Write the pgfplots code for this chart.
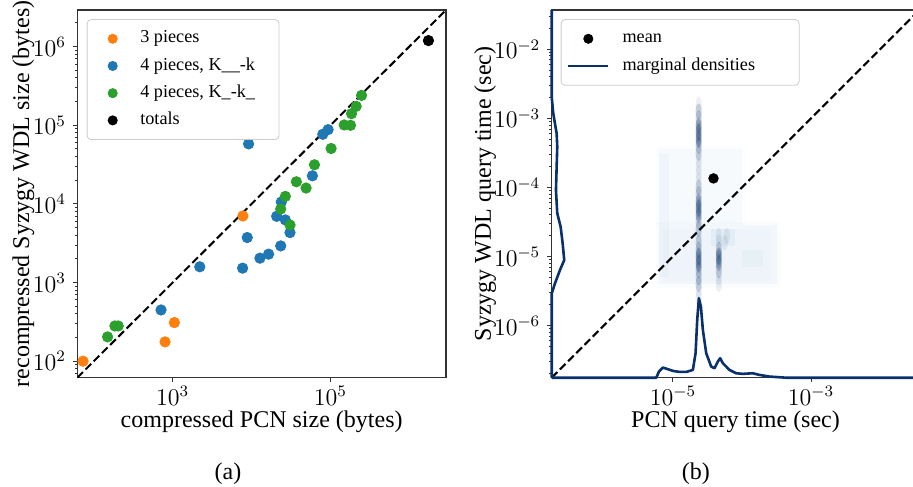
\documentclass[border=0pt]{standalone}
\usepackage[no-math]{fontspec}
\setmainfont{Liberation Serif}
\usepackage{pgfplots}
\pgfplotsset{compat=1.18}

\definecolor{cthree}{HTML}{FF7F0E}
\definecolor{cfoura}{HTML}{1F77B4}
\definecolor{cfourb}{HTML}{2CA02C}
\definecolor{dens}{HTML}{08306B}
\definecolor{cloud}{HTML}{2171B5}

\pgfplotsset{
  panel/.style={
    scale only axis, height=183.85pt, anchor=south west,
    axis line style={black!80, line width=0.6pt},
    tick align=outside, tick pos=left,
    major tick length=2.2pt, minor tick length=1.2pt,
    tick style={black!80, line width=0.5pt},
    tick label style={font=\fontsize{11.5}{13}\selectfont},
    xticklabel style={inner sep=2pt},
    label style={font=\fontsize{12}{14}\selectfont},
    xlabel style={at={(axis description cs:0.5,-0.121)}, anchor=center},
    legend cell align=left,
    legend image code/.code={%
      \draw[mark repeat=2,mark phase=2,##1] plot coordinates {(0cm,0cm) (0.35cm,0cm) (0.7cm,0cm)};},
    legend style={draw=black!20, rounded corners=2pt, fill=white, fill opacity=0.8,
      text opacity=1, font=\fontsize{9.1}{11}\selectfont, anchor=north west,
      row sep=2pt, inner xsep=3pt, inner ysep=3.8pt,
      nodes={inner sep=1.5pt, text height=6.4pt, text depth=2.2pt},
      /tikz/every odd column/.append style={column sep=2pt}},
  },
  dot/.style={only marks, mark=*, mark size=2.6pt, color=#1,
    mark options={solid, draw=#1, fill=#1, fill opacity=1, draw opacity=1},
    legend image code/.code={\draw[##1, mark size=2.3pt] plot coordinates {(0.35cm,0cm)};}},
  blur/.style 2 args={only marks, mark=*, forget plot,
    mark options={draw opacity=0, fill=dens, fill opacity=#1, xscale=0.7, yscale=#2}},
  soft/.style={draw=none, fill=cloud, fill opacity=#1, forget plot},
}

\begin{document}
\begin{tikzpicture}
\path[use as bounding box] (0,0) rectangle (456.5pt,243pt);

% (a) sizes
\begin{loglogaxis}[panel, at={(38.65pt,54.15pt)}, width=184.35pt,
  xmin=61.7, xmax=2.917e6, ymin=61.7, ymax=2.917e6,
  xtick={1e3,1e5}, minor xtick={},
  ytick={1e2,1e3,1e4,1e5,1e6},
  minor ytick={7e1,8e1,9e1,2e2,3e2,4e2,5e2,6e2,7e2,8e2,9e2,2e3,3e3,4e3,5e3,6e3,7e3,8e3,9e3,
    2e4,3e4,4e4,5e4,6e4,7e4,8e4,9e4,2e5,3e5,4e5,5e5,6e5,7e5,8e5,9e5,2e6},
  xlabel={compressed PCN size (bytes)},
  ylabel={recompressed Syzygy WDL size (bytes)},
  ylabel style={at={(axis description cs:-0.146,0.5)}, anchor=center},
  legend style={at={(0.0255,0.975)}, inner xsep=10.5pt},
]
\addplot[black, line width=1pt, dash pattern=on 4pt off 1.8pt, forget plot]
  coordinates {(61.7,61.7) (2.917e6,2.917e6)};
\addplot[dot=cthree] coordinates {
  (73,100) (800,176) (1050,310) (7760,7020)};
\addlegendentry{\hspace*{8pt}\makebox[54.4pt][l]{3 pieces}}
\addplot[dot=cfoura] coordinates {
  (9160,57900) (711,448) (2203,1585) (7690,1524) (8810,3733) (12760,2042)
  (16440,2296) (23390,2924) (20800,6950) (23820,10570) (26790,6252)
  (30690,4315) (59020,22750) (79980,76740) (93330,87900)};
\addlegendentry{\hspace*{8pt}4 pieces, K\_\_-k}
\addplot[dot=cfourb] coordinates {
  (149.3,203.7) (184.9,280.5) (203.7,280.5) (23390,8610) (26790,12450)
  (30690,5395) (36980,19100) (49090,15890) (62660,31410) (101900,50580)
  (149300,100700) (179500,99770) (184900,140300) (211800,173800) (247700,239300)};
\addlegendentry{\hspace*{8pt}4 pieces, K\_-k\_}
\addplot[dot=black] coordinates {(1746000,1191000)};
\addlegendentry{\hspace*{8pt}totals}
\end{loglogaxis}

% (b) query times
\begin{loglogaxis}[panel, at={(275.85pt,54.15pt)}, width=183.85pt, clip=false,
  xmin=1.76e-7, xmax=3.7e-2, ymin=1.76e-7, ymax=3.7e-2,
  xtick={1e-5,1e-3}, minor xtick={},
  ytick={1e-6,1e-5,1e-4,1e-3,1e-2},
  minor ytick={2e-7,3e-7,4e-7,5e-7,6e-7,7e-7,8e-7,9e-7,2e-6,3e-6,4e-6,5e-6,6e-6,7e-6,8e-6,9e-6,
    2e-5,3e-5,4e-5,5e-5,6e-5,7e-5,8e-5,9e-5,2e-4,3e-4,4e-4,5e-4,6e-4,7e-4,8e-4,9e-4,
    2e-3,3e-3,4e-3,5e-3,6e-3,7e-3,8e-3,9e-3,2e-2,3e-2},
  xlabel={PCN query time (sec)},
  ylabel={Syzygy WDL query time (sec)},
  ylabel style={at={(axis description cs:-0.181,0.5)}, anchor=center},
  legend style={at={(0.0245,0.975)}},
]
% faint cloud of the 2-d density
\addplot[soft=0.025] coordinates {(5.62e-6,3.55e-6) (3.548e-4,3.55e-6) (3.548e-4,3.162e-5) (5.62e-6,3.162e-5)} -- cycle;
\addplot[soft=0.03] coordinates {(6.31e-6,3.98e-6) (3.162e-4,3.98e-6) (3.162e-4,2.818e-5) (6.31e-6,2.818e-5)} -- cycle;
\addplot[soft=0.025] coordinates {(7.08e-6,4.47e-6) (2.512e-4,4.47e-6) (2.512e-4,2.512e-5) (7.08e-6,2.512e-5)} -- cycle;
\addplot[soft=0.015] coordinates {(5.62e-6,2.818e-5) (1.122e-4,2.818e-5) (1.122e-4,3.981e-4) (5.62e-6,3.981e-4)} -- cycle;
\addplot[soft=0.02] coordinates {(6.31e-6,2.818e-5) (1e-4,2.818e-5) (1e-4,3.548e-4) (6.31e-6,3.548e-4)} -- cycle;
\addplot[soft=0.035] coordinates {(6.31e-6,5.01e-6) (8.91e-6,5.01e-6) (8.91e-6,3.162e-4) (6.31e-6,3.162e-4)} -- cycle;
\addplot[soft=0.05] coordinates {(3.548e-5,1.413e-5) (7.943e-5,1.413e-5) (7.943e-5,2.512e-5) (3.548e-5,2.512e-5)} -- cycle;
\addplot[soft=0.035] coordinates {(1e-4,7.08e-6) (1.995e-4,7.08e-6) (1.995e-4,1.259e-5) (1e-4,1.259e-5)} -- cycle;
% streaks
\addplot[blur={0.07}{1.8}, mark size=2.2pt] coordinates {
  (2.36e-5,1.585e-3) (2.36e-5,1.259e-3) (2.36e-5,1e-3) (2.36e-5,7.943e-4) (2.36e-5,6.31e-4)
  (2.36e-5,5.012e-4) (2.36e-5,3.981e-4) (2.36e-5,3.162e-4) (2.36e-5,2.512e-4) (2.36e-5,1.995e-4)
  (2.36e-5,1.585e-4) (2.36e-5,1.259e-4) (2.36e-5,1e-4) (2.36e-5,7.943e-5) (2.36e-5,6.31e-5)
  (2.36e-5,5.012e-5) (2.36e-5,3.981e-5) (2.36e-5,3.162e-5) (2.36e-5,2.512e-5) (2.36e-5,1.995e-5)
  (2.36e-5,1.585e-5) (2.36e-5,1.259e-5) (2.36e-5,1e-5) (2.36e-5,7.943e-6) (2.36e-5,6.31e-6)
  (2.36e-5,5.012e-6) (2.36e-5,3.981e-6) (2.36e-5,3.162e-6) (2.36e-5,2.512e-6)
  (4.62e-5,1.995e-5) (4.62e-5,1.585e-5) (4.62e-5,1.259e-5) (4.62e-5,1e-5) (4.62e-5,7.943e-6)
  (4.62e-5,6.31e-6) (4.62e-5,5.012e-6) (4.62e-5,3.981e-6)
  (5.623e-5,1.585e-5) (6.03e-5,1.995e-5)};
\addplot[blur={0.12}{1.8}, mark size=2.2pt] coordinates {
  (2.36e-5,1.259e-3) (2.36e-5,1e-3) (2.36e-5,7.943e-4) (2.36e-5,6.31e-4) (2.36e-5,5.012e-4)
  (2.36e-5,3.981e-4) (2.36e-5,3.162e-4) (2.36e-5,1e-4) (2.36e-5,7.943e-5) (2.36e-5,6.31e-5)
  (2.36e-5,5.012e-5) (2.36e-5,3.981e-5) (2.36e-5,3.162e-5) (2.36e-5,2.512e-5) (2.36e-5,1.585e-5)
  (2.36e-5,1.259e-5) (2.36e-5,1e-5) (2.36e-5,7.943e-6) (2.36e-5,6.31e-6) (2.36e-5,5.012e-6)
  (2.36e-5,3.981e-6)
  (4.62e-5,1.259e-5) (4.62e-5,1e-5) (4.62e-5,7.943e-6) (4.62e-5,6.31e-6)};
\addplot[blur={0.2}{1.5}, mark size=2pt] coordinates {
  (2.36e-5,7.943e-4) (2.36e-5,7.079e-4) (2.36e-5,6.31e-4) (2.36e-5,5.623e-4) (2.36e-5,5.012e-4)
  (2.36e-5,4.467e-4) (2.36e-5,6.31e-5) (2.36e-5,5.623e-5) (2.36e-5,5.012e-5) (2.36e-5,4.467e-5)
  (2.36e-5,3.981e-5) (2.36e-5,1.122e-5) (2.36e-5,1e-5) (2.36e-5,8.913e-6) (2.36e-5,7.943e-6)
  (2.36e-5,7.079e-6)
  (4.62e-5,1.122e-5) (4.62e-5,1e-5) (4.62e-5,8.913e-6) (4.62e-5,7.943e-6)};
\addplot[black, line width=1pt, dash pattern=on 4pt off 1.8pt, forget plot]
  coordinates {(1.76e-7,1.76e-7) (3.7e-2,3.7e-2)};
\addplot[dot=black, mark size=2.4pt] coordinates {(3.87e-5,1.35e-4)};
\addlegendentry{\hspace*{3pt}\makebox[83.8pt][l]{mean}}
% marginal densities
\addplot[dens, line width=1.3pt, line join=round] coordinates {
  (1.76e-7,3.7e-2) (1.76e-7,2.046e-3) (1.854e-7,1.178e-3) (2.075e-7,6.039e-4) (2.118e-7,3.873e-4)
  (2.075e-7,1.986e-4) (2.028e-7,9.141e-5) (2.118e-7,4.207e-5) (2.371e-7,2.692e-5)
  (2.535e-7,1.549e-5) (2.673e-7,8.872e-6) (2.317e-7,6.353e-6) (1.963e-7,4.083e-6)
  (1.76e-7,2.924e-6) (1.76e-7,1.76e-7)};
\addlegendentry{\hspace*{3pt}marginal densities}
\addplot[dens, line width=1.3pt, line join=round, forget plot] coordinates {
  (1.76e-7,1.76e-7) (5.741e-6,1.76e-7) (6.281e-6,2.158e-7) (7.161e-6,2.466e-7) (8.472e-6,2.333e-7)
  (1e-5,2.208e-7) (1.247e-5,2.133e-7) (1.56e-5,2.133e-7) (1.945e-5,2.28e-7) (2.128e-5,3.981e-7)
  (2.249e-5,1.208e-6) (2.377e-5,2.489e-6) (2.541e-5,1.884e-6) (2.716e-5,8.65e-7)
  (3.034e-5,3.981e-7) (3.581e-5,2.553e-7) (4e-5,2.415e-7) (4.467e-5,3.013e-7)
  (4.831e-5,3.365e-7) (5.284e-5,2.851e-7) (6.592e-5,2.28e-7) (8.222e-5,2.042e-7)
  (1.028e-4,2e-7) (1.432e-4,2.042e-7) (1.786e-4,1.932e-7) (2.495e-4,1.828e-7)
  (4.345e-4,1.76e-7) (3.7e-2,1.76e-7)};
\end{loglogaxis}

\node[font=\fontsize{12}{14}\selectfont] at (114pt,6pt) {(a)};
\node[font=\fontsize{12}{14}\selectfont] at (347.9pt,6pt) {(b)};
\end{tikzpicture}
\end{document}
